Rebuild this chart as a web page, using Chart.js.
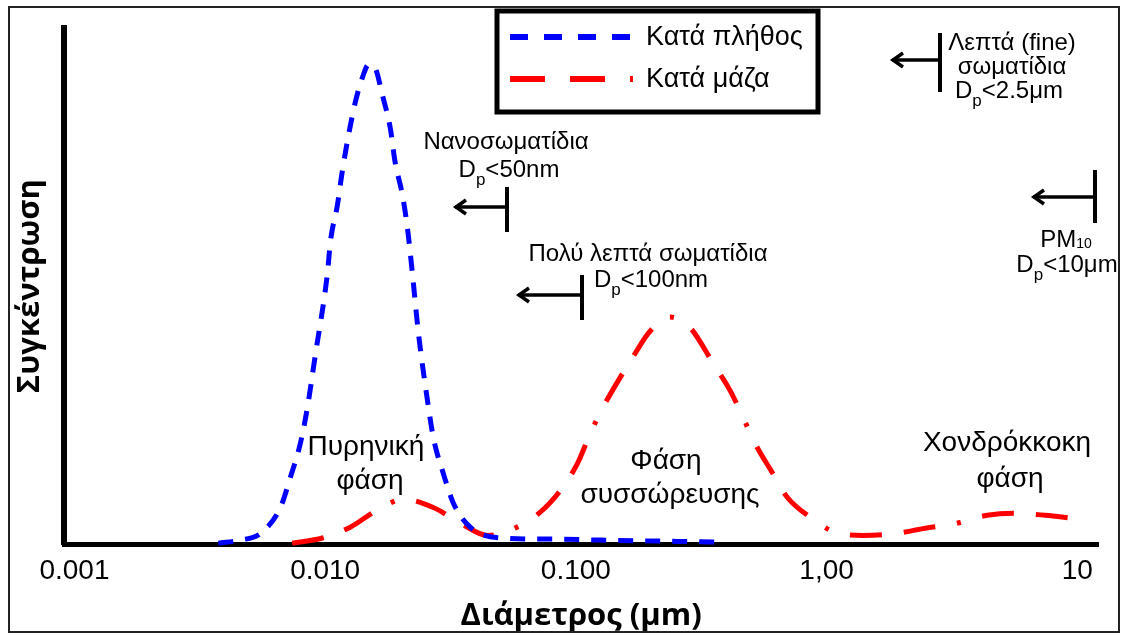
<!DOCTYPE html>
<html>
<head>
<meta charset="utf-8">
<script src="https://cdn.jsdelivr.net/npm/chart.js@4"></script>
<style>
  body { margin: 0; background: #fff; }
  #wrap { width: 1124px; height: 635px; }
</style>
</head>
<body>
<div id="wrap"><canvas id="psdChart"></canvas></div>
<script>
// Κατανομή μεγέθους σωματιδίων (διάμετρος σε μm)
const numberDiameter = [0.00375, 0.00459, 0.00552, 0.00663, 0.00726, 0.00796, 0.00849, 0.00914, 0.0102, 0.0105,
    0.0112, 0.0117, 0.0124, 0.0132, 0.0141, 0.0149, 0.0158, 0.0169, 0.0182, 0.0190,
    0.0203, 0.0213, 0.0223, 0.0235, 0.0256, 0.0270, 0.0296, 0.0325, 0.0379, 0.0500,
    0.0769, 0.125, 0.370];
const numberConc = [0.2, 0.8, 2.1, 7.1, 12.9, 19.5, 26.4, 36.7, 52.3, 58.7,
    65.8, 72.2, 79.3, 85.7, 90.5, 92.9, 92.3, 87.1, 80.5, 74.1,
    67.8, 61.2, 52.3, 41.3, 27.8, 20.7, 13.7, 7.9, 3.3, 1.2,
    1.0, 0.8, 0.4];

const massDiameter = [0.00739, 0.00975, 0.0126, 0.0161, 0.0205, 0.0270, 0.0346, 0.0444, 0.0547, 0.0721,
    0.0867, 0.1014, 0.114, 0.128, 0.146, 0.168, 0.198, 0.238, 0.286, 0.353,
    0.413, 0.465, 0.519, 0.607, 0.697, 0.861, 1.06, 1.40, 1.91, 2.47,
    3.20, 4.37, 5.55, 7.45, 9.62];
const massConc = [0.2, 1.2, 3.3, 6.6, 8.7, 7.1, 4.1, 1.7, 2.7, 6.2,
    10.4, 15.6, 21.4, 26.4, 31.3, 36.1, 41.3, 44.0, 41.9, 35.0,
    29.7, 24.5, 19.5, 13.9, 9.1, 5.2, 2.5, 1.7, 2.1, 3.1,
    3.9, 5.6, 6.0, 5.6, 5.0];

const tickValues = [0.001, 0.01, 0.1, 1, 10];
const tickLabels = ['0.001', '0.010', '0.100', '1,00', '10'];
const seriesNames = ['Κατά πλήθος', 'Κατά μάζα'];

const TXT = '"Liberation Sans", Arial, sans-serif';
const BOLD = '"Open Sans", "DejaVu Sans", sans-serif';

const blueDash = [15, 12];
const redDash = [32, 22, 32, 22, 4, 22];

// κείμενο με δείκτες (D_p, PM_10)
function drawRuns(ctx, runs, cx, cy) {
    let w = 0;
    runs.forEach(r => {
        ctx.font = r.size + 'px ' + TXT;
        r.w = ctx.measureText(r.t).width;
        w += r.w;
    });
    let x = cx - w / 2;
    ctx.textAlign = 'left';
    ctx.textBaseline = 'middle';
    runs.forEach(r => {
        ctx.font = r.size + 'px ' + TXT;
        ctx.fillText(r.t, x, cy + (r.dy || 0));
        x += r.w;
    });
}

function drawCentered(ctx, text, cx, cy, size) {
    ctx.font = size + 'px ' + TXT;
    ctx.textAlign = 'center';
    ctx.textBaseline = 'middle';
    ctx.fillText(text, cx, cy);
}

// βέλος προς τα αριστερά με κάθετη γραμμή ορίου
function drawLimit(ctx, xTip, xBar, y, barTop, barBottom) {
    ctx.save();
    ctx.strokeStyle = '#000';
    ctx.setLineDash([]);
    ctx.lineWidth = 3.5;
    ctx.beginPath();
    ctx.moveTo(xTip, y);
    ctx.lineTo(xBar, y);
    ctx.stroke();
    ctx.beginPath();
    ctx.moveTo(xTip + 11, y - 7);
    ctx.lineTo(xTip + 1, y);
    ctx.lineTo(xTip + 11, y + 7);
    ctx.stroke();
    ctx.lineWidth = 4;
    ctx.beginPath();
    ctx.moveTo(xBar, barTop);
    ctx.lineTo(xBar, barBottom);
    ctx.stroke();
    ctx.restore();
}

const annotations = {
    id: 'annotations',
    afterDraw(chart) {
        const ctx = chart.ctx;
        ctx.save();
        ctx.fillStyle = '#000';

        // πλαίσιο εικόνας
        ctx.strokeStyle = '#222';
        ctx.lineWidth = 2;
        ctx.strokeRect(9, 7, 1110, 625);

        // υπόμνημα
        ctx.lineWidth = 5;
        ctx.strokeStyle = '#000';
        ctx.strokeRect(497, 11, 321, 101);
        ctx.lineCap = 'butt';
        ctx.lineWidth = 6;
        ctx.strokeStyle = '#0000ff';
        ctx.setLineDash([18, 16]);
        ctx.beginPath(); ctx.moveTo(510, 37); ctx.lineTo(632, 37); ctx.stroke();
        ctx.strokeStyle = '#ff0000';
        ctx.setLineDash([35, 25, 35, 25, 3, 25]);
        ctx.beginPath(); ctx.moveTo(510, 79); ctx.lineTo(633, 79); ctx.stroke();
        ctx.setLineDash([]);
        ctx.font = '27px ' + TXT;
        ctx.textAlign = 'left';
        ctx.textBaseline = 'middle';
        ctx.fillText(seriesNames[0], 646, 38);
        ctx.fillText(seriesNames[1], 646, 80);

        // όρια μεγέθους
        drawCentered(ctx, 'Νανοσωματίδια', 506, 142, 24);
        drawRuns(ctx, [{ t: 'D', size: 24 }, { t: 'p', size: 17, dy: 10 }, { t: '<50nm', size: 24 }], 509, 170);
        drawLimit(ctx, 455, 507, 207, 187, 232);

        drawCentered(ctx, 'Πολύ λεπτά σωματίδια', 648, 254, 24);
        drawRuns(ctx, [{ t: 'D', size: 24 }, { t: 'p', size: 17, dy: 10 }, { t: '<100nm', size: 24 }], 651, 280);
        drawLimit(ctx, 518, 582, 295, 275, 320);

        drawCentered(ctx, 'Λεπτά (fine)', 1012, 43, 24);
        drawCentered(ctx, 'σωματίδια', 1012, 67, 24);
        drawRuns(ctx, [{ t: 'D', size: 24 }, { t: 'p', size: 17, dy: 10 }, { t: '<2.5μm', size: 24 }], 1009, 91);
        drawLimit(ctx, 892, 940, 60, 33, 92);

        drawRuns(ctx, [{ t: 'PM', size: 24 }, { t: '10', size: 14, dy: 4 }], 1066, 240);
        drawRuns(ctx, [{ t: 'D', size: 24 }, { t: 'p', size: 17, dy: 10 }, { t: '<10μm', size: 24 }], 1067, 265);
        drawLimit(ctx, 1033, 1095, 197, 170, 223);

        // φάσεις
        drawCentered(ctx, 'Πυρηνική', 366, 447, 28);
        drawCentered(ctx, 'φάση', 370, 481, 28);
        drawCentered(ctx, 'Φάση', 666, 461, 28);
        drawCentered(ctx, 'συσσώρευσης', 670, 495, 28);
        drawCentered(ctx, 'Χονδρόκκοκη', 1007, 443, 28);
        drawCentered(ctx, 'φάση', 1010, 479, 28);

        ctx.restore();
    }
};

document.addEventListener('DOMContentLoaded', function () {
    const ctx = document.getElementById('psdChart').getContext('2d');

    const data = {
        datasets: [{
            label: seriesNames[0],
            data: numberDiameter.map((d, i) => ({ x: d, y: numberConc[i] })),
            borderColor: '#0000ff',
            borderWidth: 5,
            borderDash: blueDash,
            borderCapStyle: 'butt',
            pointRadius: 0,
            cubicInterpolationMode: 'monotone',
            clip: false
        },
        {
            label: seriesNames[1],
            data: massDiameter.map((d, i) => ({ x: d, y: massConc[i] })),
            borderColor: '#ff0000',
            borderWidth: 5,
            borderDash: redDash,
            borderCapStyle: 'butt',
            pointRadius: 0,
            cubicInterpolationMode: 'monotone',
            clip: false
        }]
    };

    const config = {
        type: 'line',
        data: data,
        options: {
            responsive: true,
            maintainAspectRatio: false,
            animation: false,
            layout: { padding: { top: 28, right: 26, bottom: 0, left: 12 } },
            plugins: {
                legend: { display: false },
                tooltip: { enabled: false }
            },
            scales: {
                x: {
                    type: 'logarithmic',
                    min: 0.00091,
                    max: 12.1,
                    afterBuildTicks: axis => {
                        axis.ticks = tickValues.map(v => ({ value: v }));
                    },
                    ticks: {
                        autoSkip: false,
                        maxRotation: 0,
                        padding: 10,
                        color: '#000',
                        font: { family: TXT, size: 28 },
                        callback: (val, i) => tickLabels[i]
                    },
                    grid: { display: false, drawTicks: false },
                    border: { display: true, color: '#000', width: 5 },
                    title: {
                        display: true,
                        text: 'Διάμετρος (μm)',
                        color: '#000',
                        font: { family: BOLD, size: 31, weight: 'bold' },
                        padding: { top: 0, bottom: 0 }
                    }
                },
                y: {
                    min: 0,
                    max: 100,
                    ticks: { display: false },
                    grid: { display: false, drawTicks: false },
                    border: { display: true, color: '#000', width: 6 },
                    title: {
                        display: true,
                        text: 'Συγκέντρωση',
                        color: '#000',
                        font: { family: BOLD, size: 31, weight: 'bold' },
                        padding: { top: 0, bottom: 15 }
                    }
                }
            }
        },
        plugins: [annotations]
    };

    new Chart(ctx, config);
});
</script>
</body>
</html>
